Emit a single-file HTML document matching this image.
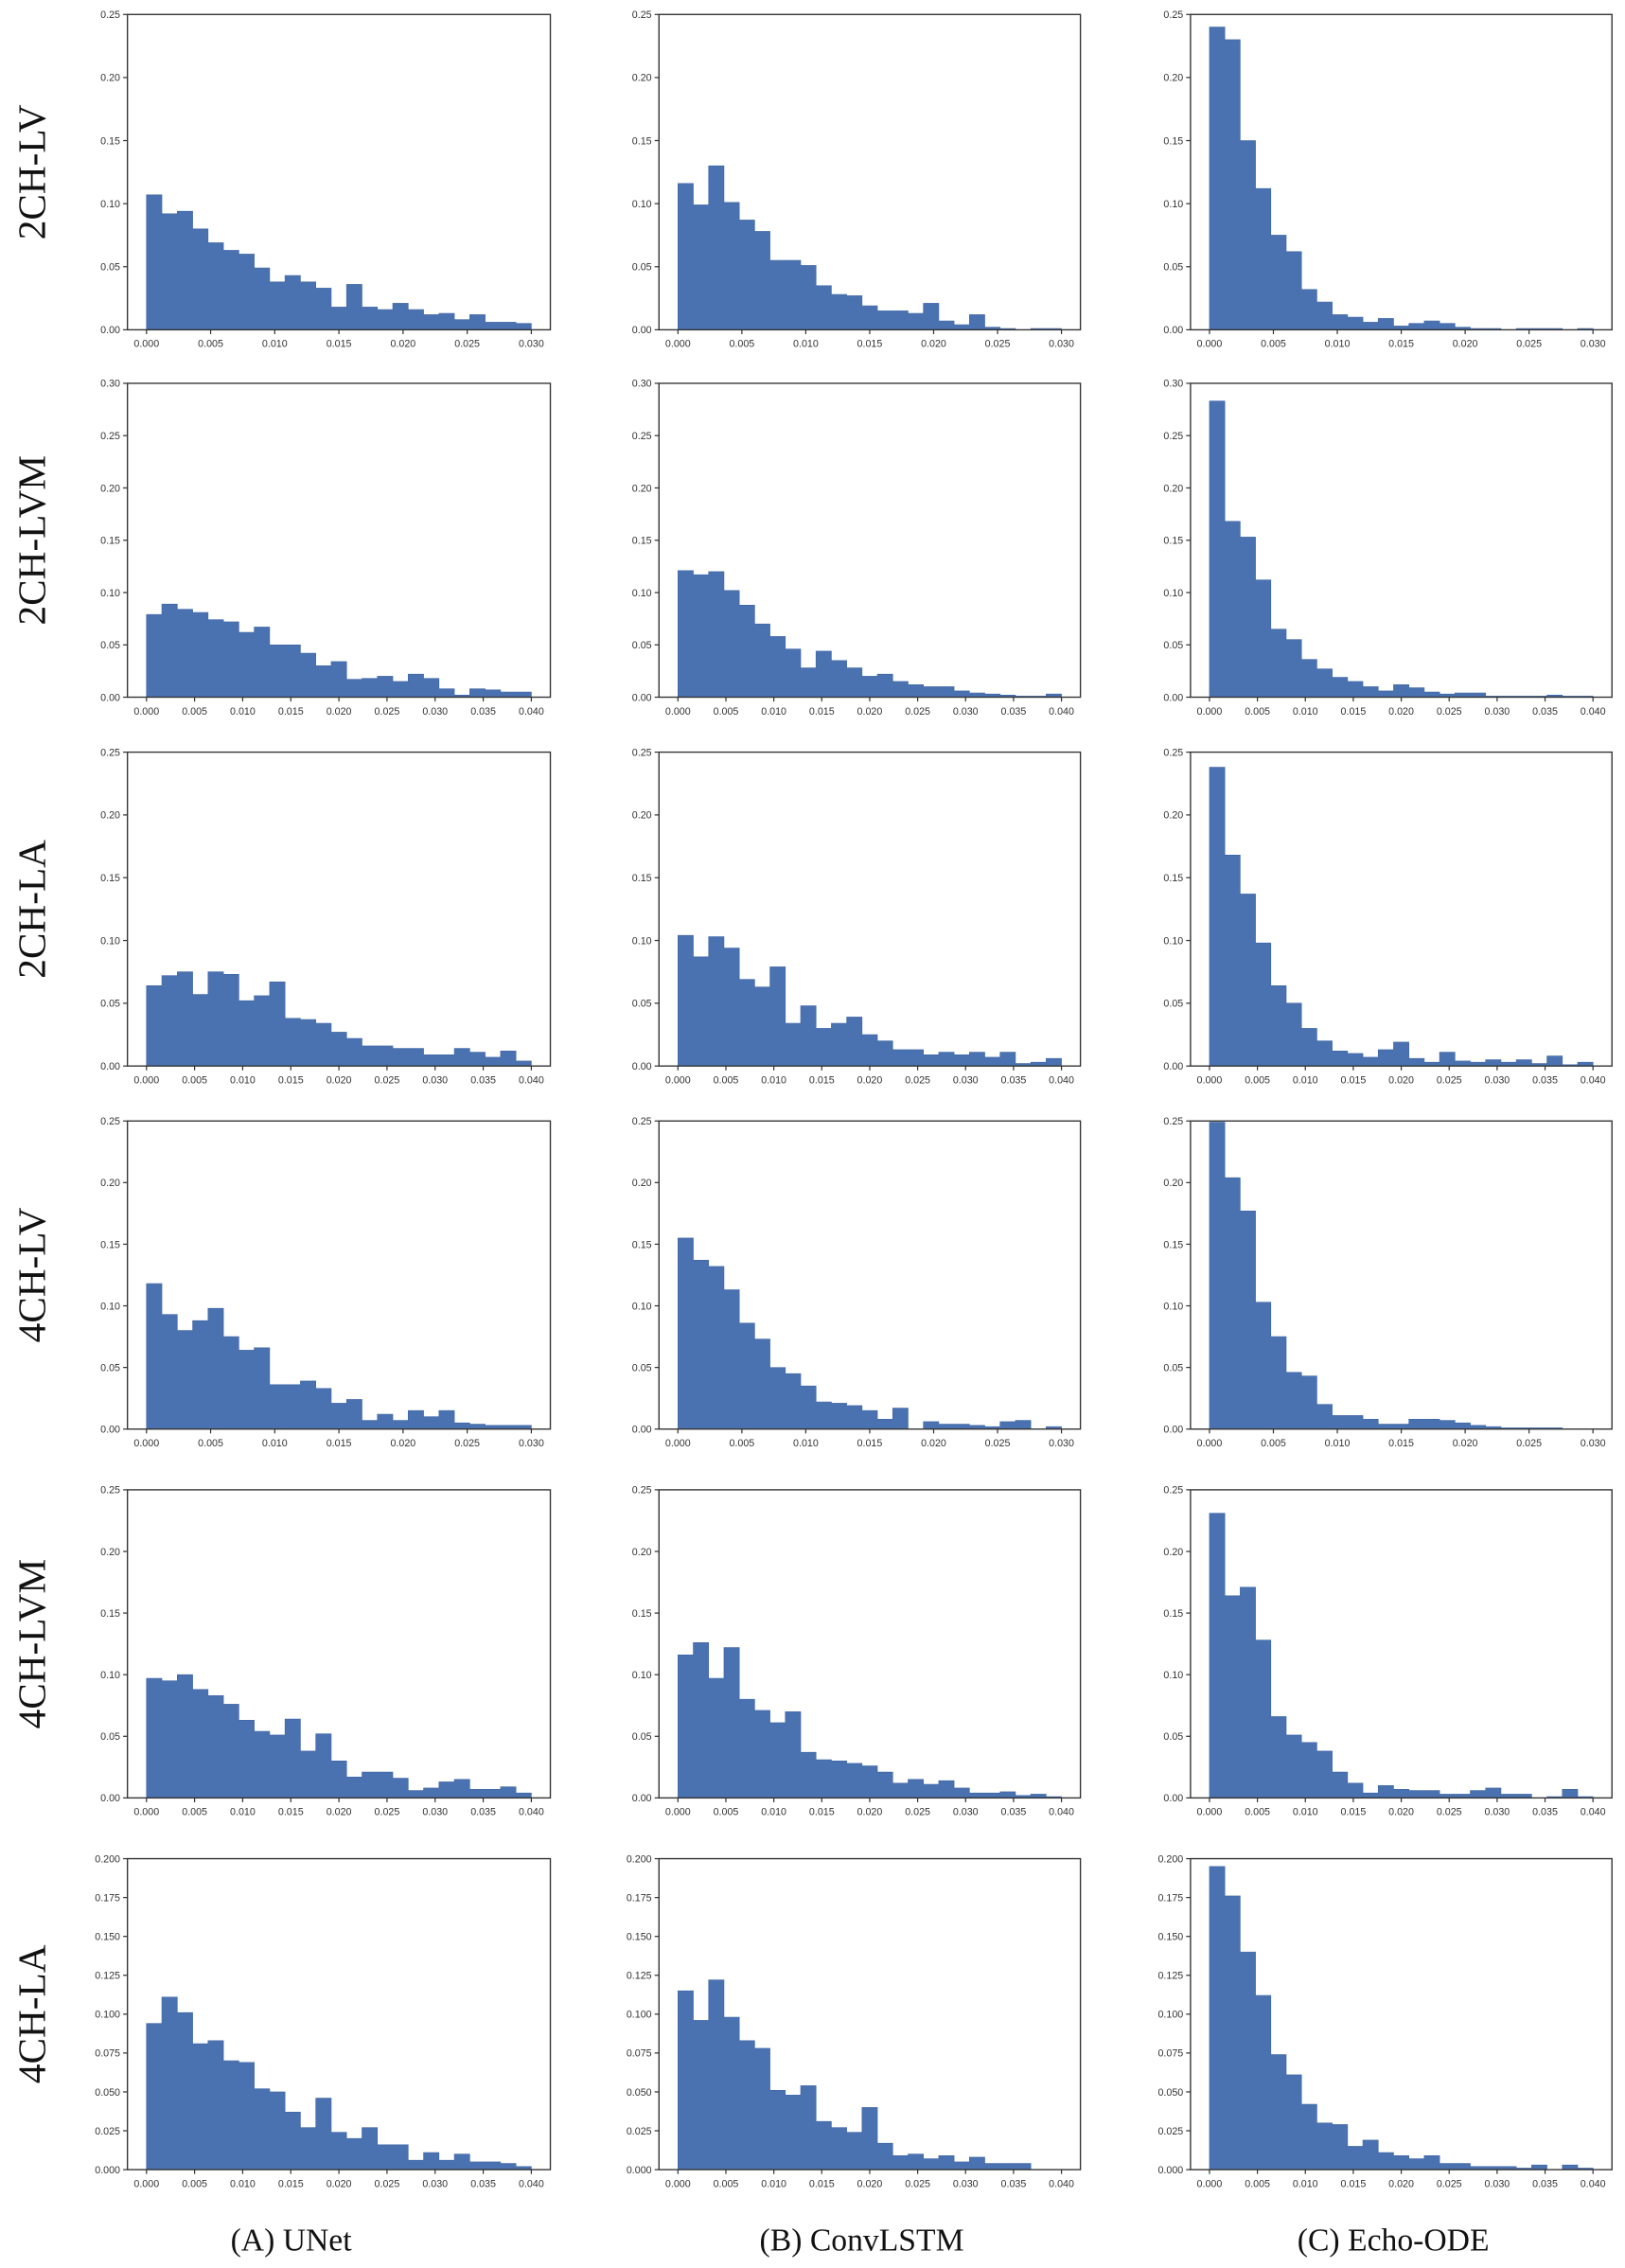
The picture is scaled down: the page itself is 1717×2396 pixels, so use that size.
<!DOCTYPE html>
<html><head><meta charset="utf-8"><style>html,body{margin:0;padding:0;background:#fff}svg{display:block}</style></head>
<body>
<svg id="s" width="1717" height="2396" viewBox="0 0 1122 1568" preserveAspectRatio="none" xmlns="http://www.w3.org/2000/svg"></svg>
<script>
const cols=[[88,380],[455,746],[822,1113]];
const rows=[[10,228],[265,482],[520,737],[775,988],[1030,1243],[1285,1500]];
const xr=[.03,.04,.04,.03,.04,.04], ym=[.25,.30,.25,.25,.25,.20];
const labels=["2CH-LV","2CH-LVM","2CH-LA","4CH-LV","4CH-LVM","4CH-LA"];
const D=[
[[.107,.092,.094,.080,.069,.063,.060,.049,.038,.043,.038,.033,.018,.036,.018,.016,.021,.016,.012,.013,.008,.012,.006,.006,.005],
[.116,.099,.130,.101,.087,.078,.055,.055,.051,.035,.028,.027,.019,.015,.015,.013,.021,.007,.004,.012,.002,.001,0,.001,.001],
[.24,.23,.15,.112,.075,.062,.032,.022,.012,.010,.006,.009,.003,.005,.007,.005,.002,.001,.001,0,.001,.001,.001,0,.001]],
[[.079,.089,.084,.081,.074,.072,.062,.067,.050,.050,.042,.030,.034,.017,.018,.020,.015,.022,.018,.008,.002,.008,.007,.005,.005],
[.121,.117,.120,.102,.088,.070,.058,.046,.028,.044,.035,.028,.020,.022,.015,.012,.010,.010,.006,.004,.003,.002,.001,.001,.003],
[.283,.168,.153,.112,.065,.055,.036,.027,.019,.015,.010,.006,.012,.009,.005,.003,.004,.004,.001,.001,.001,.001,.002,.001,.001]],
[[.064,.072,.075,.057,.075,.073,.052,.056,.067,.038,.037,.034,.027,.022,.016,.016,.014,.014,.009,.009,.014,.011,.007,.012,.004],
[.104,.087,.103,.094,.069,.063,.079,.034,.048,.030,.034,.039,.025,.020,.013,.013,.009,.011,.009,.011,.007,.011,.002,.003,.006],
[.238,.168,.137,.098,.064,.050,.030,.020,.012,.010,.007,.013,.019,.006,.003,.011,.004,.003,.005,.003,.005,.002,.008,.001,.003]],
[[.118,.093,.080,.088,.098,.075,.064,.066,.036,.036,.039,.033,.021,.024,.007,.012,.007,.015,.010,.015,.005,.004,.003,.003,.003],
[.155,.137,.132,.113,.086,.073,.050,.045,.035,.022,.021,.019,.015,.008,.017,0,.006,.004,.004,.003,.002,.006,.007,0,.002],
[.249,.204,.177,.103,.075,.046,.043,.020,.011,.011,.008,.004,.004,.008,.008,.007,.005,.003,.002,.001,.001,.001,.001,0,0]],
[[.097,.095,.100,.088,.083,.076,.063,.054,.051,.064,.038,.052,.030,.017,.021,.021,.016,.006,.008,.013,.015,.007,.007,.009,.004],
[.116,.126,.097,.122,.080,.071,.061,.070,.037,.031,.030,.028,.026,.021,.012,.015,.011,.014,.008,.004,.004,.005,.002,.003,.001],
[.231,.164,.171,.128,.066,.051,.045,.038,.021,.012,.004,.010,.007,.006,.006,.003,.003,.006,.008,.003,.003,0,.001,.007,.001]],
[[.094,.111,.101,.081,.083,.070,.069,.052,.050,.037,.027,.046,.024,.020,.027,.016,.016,.006,.011,.006,.010,.005,.005,.004,.002],
[.115,.096,.122,.098,.083,.078,.051,.048,.054,.031,.027,.024,.040,.017,.009,.010,.007,.009,.005,.008,.004,.004,.004,0,0],
[.195,.176,.140,.112,.074,.061,.042,.030,.029,.015,.019,.011,.009,.007,.009,.004,.004,.002,.002,.002,.001,.003,0,.003,.001]]];
let h='';
const F='font-family="Liberation Sans, DejaVu Sans, sans-serif"';
rows.forEach(([t,b],r)=>{
  const L=labels[r], cy=(t+b)/2;
  h+=`<text x="31" y="${cy}" transform="rotate(-90 31 ${cy})" text-anchor="middle" font-family="Liberation Serif, serif" font-size="27" fill="#111">${L}</text>`;
  cols.forEach(([l,rr],c)=>{
    const w=rr-l, x0=l+w*0.045, x1=rr-w*0.045, X=v=>x0+(x1-x0)*v/xr[r], Y=v=>b-(b-t)*v/ym[r];
    const d=D[r][c], n=d.length, bw=xr[r]/n;
    let p=`M${X(0)},${b}`;
    d.forEach((v,i)=>{p+=`L${X(i*bw)},${Y(v)}L${X((i+1)*bw)},${Y(v)}`});
    p+=`L${X(xr[r])},${b}Z`;
    h+=`<path d="${p}" fill="#4a72b0" stroke="#3f65a3" stroke-width="0.4"/>`;
    h+=`<rect x="${l}" y="${t}" width="${w}" height="${b-t}" fill="none" stroke="#333" stroke-width="0.9"/>`;
    const st=ym[r]==.2?.025:.05, dec=ym[r]==.2?3:2;
    for(let v=0;v<=ym[r]+1e-9;v+=st){const y=Y(v);h+=`<line x1="${l-3}" x2="${l}" y1="${y}" y2="${y}" stroke="#333" stroke-width="0.8"/><text x="${l-5}" y="${y+2.5}" text-anchor="end" font-size="7" fill="#333" ${F}>${v.toFixed(dec)}</text>`;}
    for(let v=0;v<=xr[r]+1e-9;v+=.005){const x=X(v);h+=`<line x1="${x}" x2="${x}" y1="${b}" y2="${b+3}" stroke="#333" stroke-width="0.8"/><text x="${x}" y="${b+12}" text-anchor="middle" font-size="7" fill="#333" ${F}>${v.toFixed(3)}</text>`;}
  });
});
const caps=["(A) UNet","(B) ConvLSTM","(C) Echo-ODE"], cx=[201,595,962];
caps.forEach((s,c)=>{h+=`<text x="${cx[c]}" y="1556" text-anchor="middle" font-family="Liberation Serif, serif" font-size="22" fill="#111">${s}</text>`});
document.getElementById('s').innerHTML=h;
</script>
</body></html>
